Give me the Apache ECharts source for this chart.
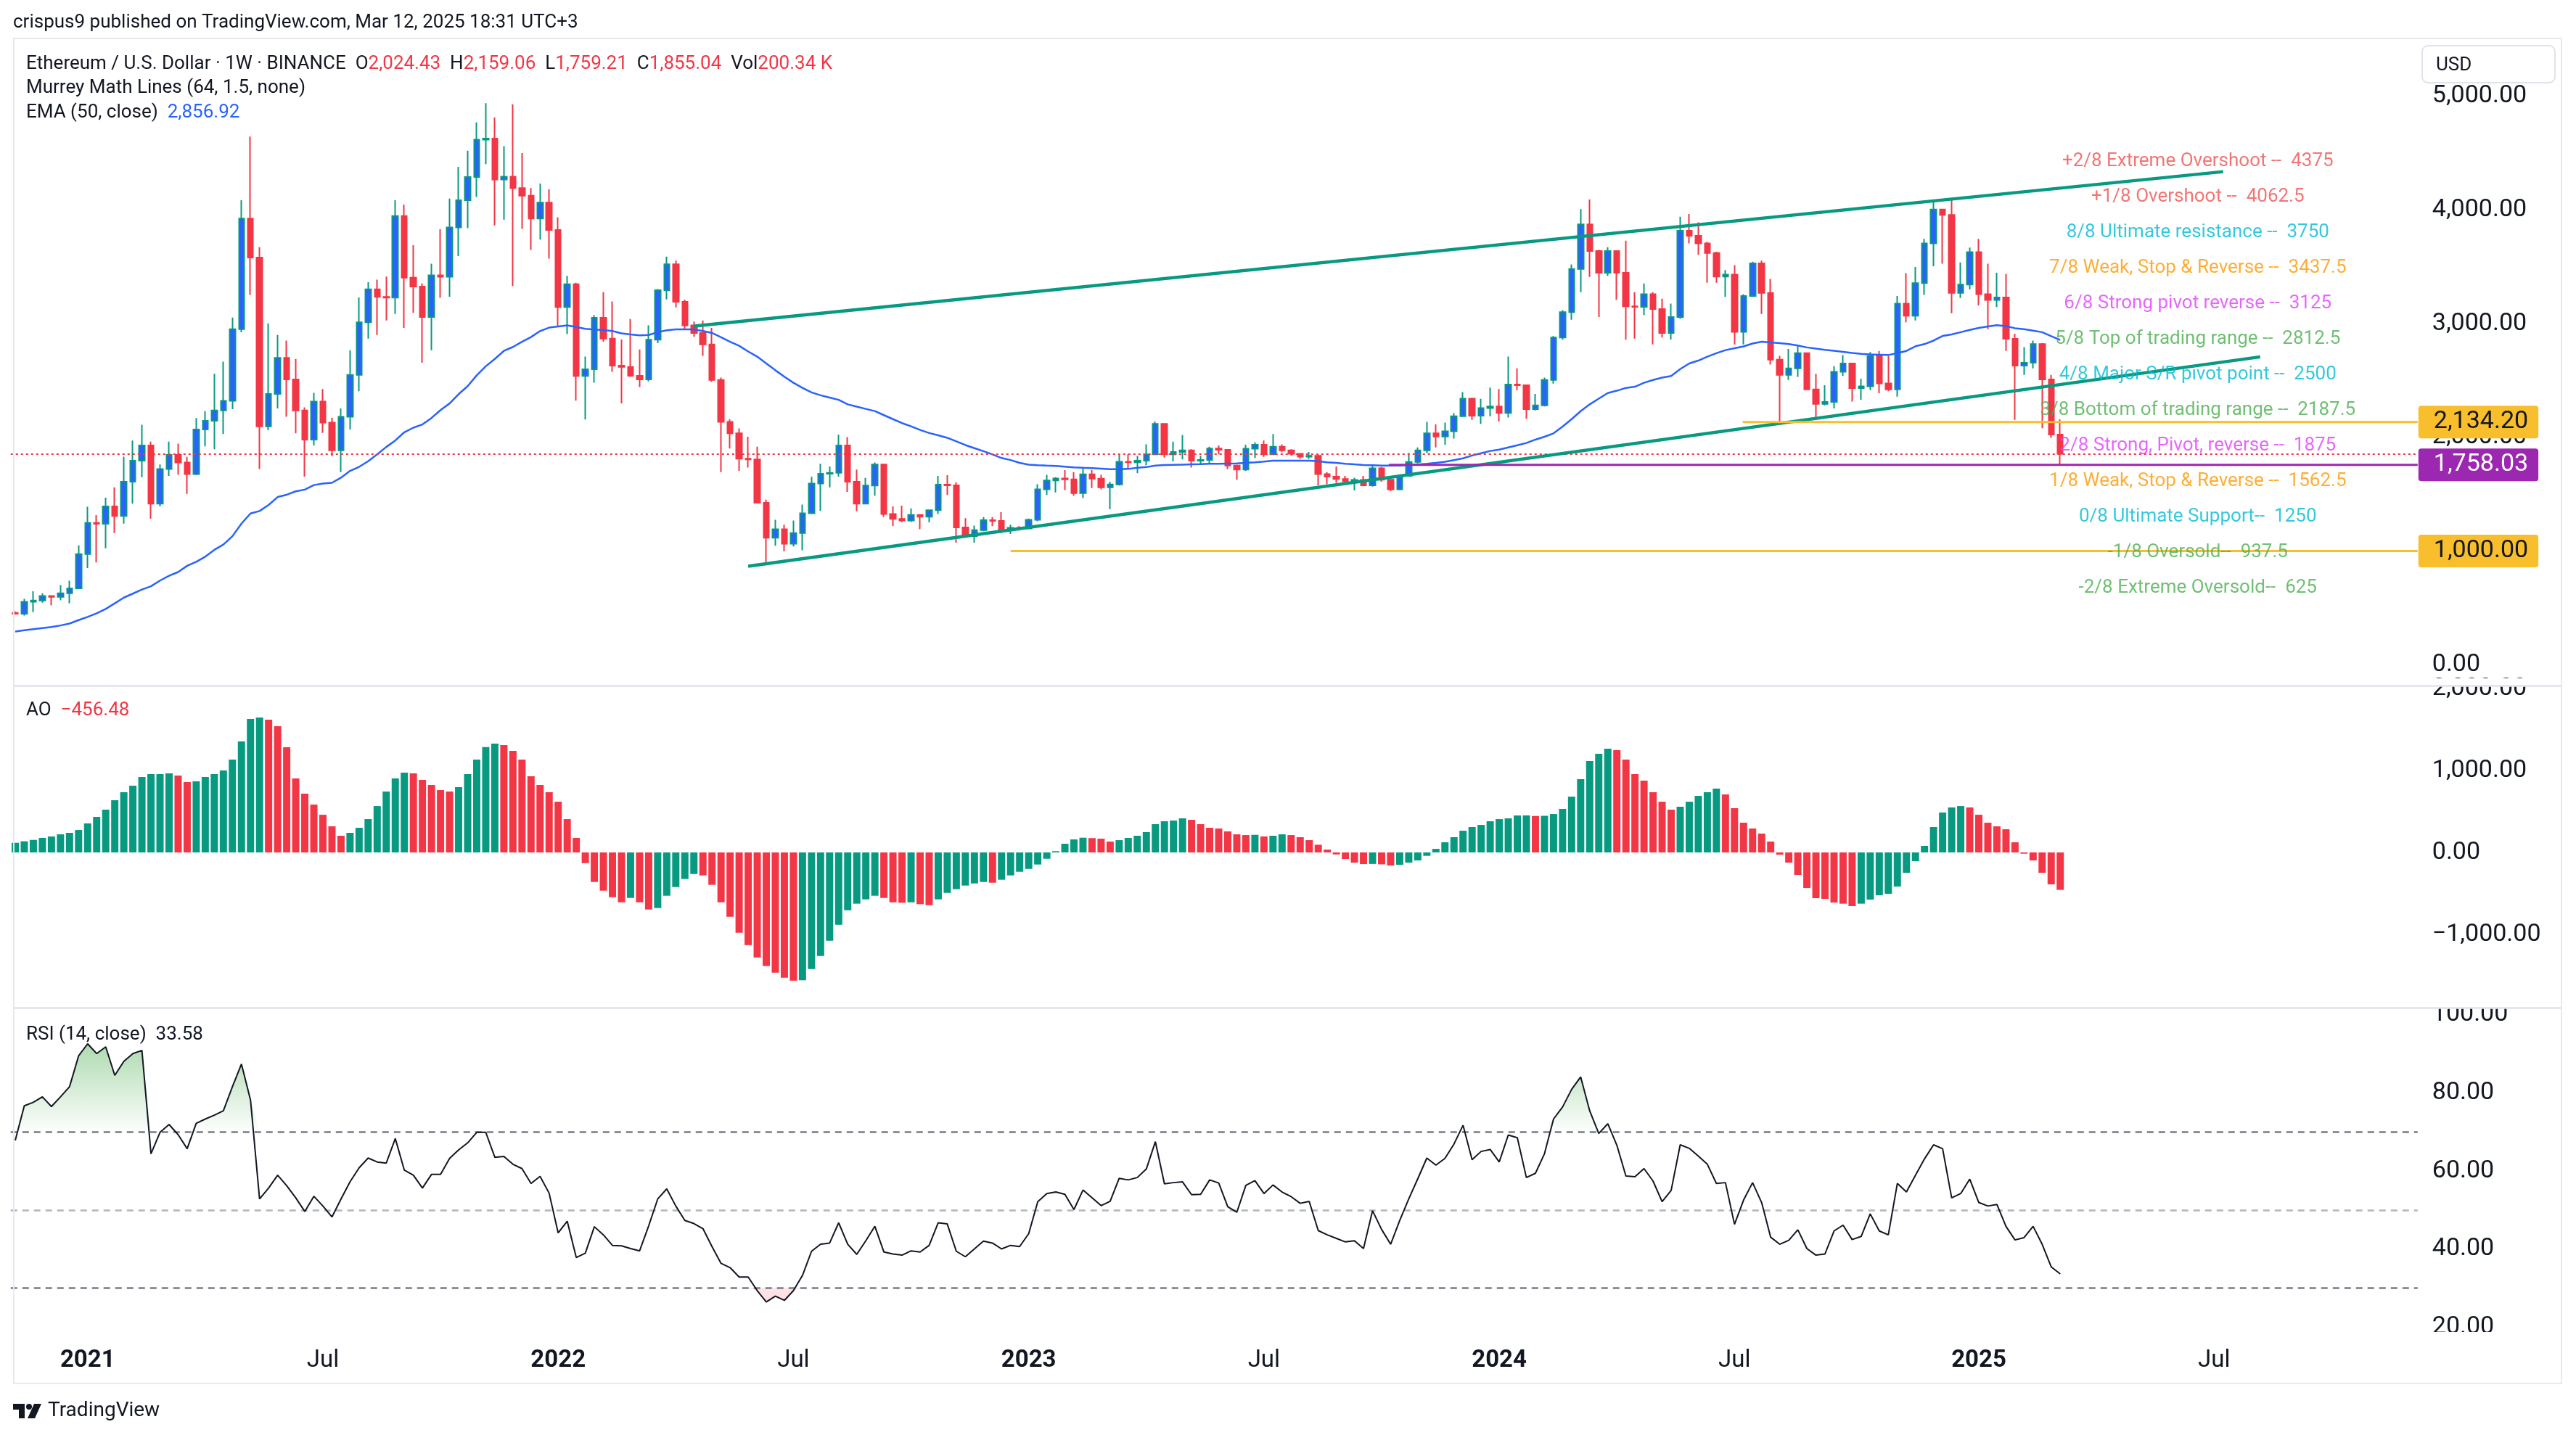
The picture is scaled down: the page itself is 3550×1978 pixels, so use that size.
<!DOCTYPE html>
<html>
<head>
<meta charset="utf-8">
<title>Ethereum / U.S. Dollar 1W</title>
<script src="https://cdn.jsdelivr.net/npm/echarts@6.0.0/dist/echarts.min.js"></script>
<style>
html,body{margin:0;padding:0;background:#ffffff;}
#chart{width:3550px;height:1978px;}
</style>
</head>
<body>
<div id="chart"></div>
<script>
// ---------- DATA ----------
const firstWeekUTC = Date.UTC(2020, 10, 9);   // first weekly bar: 2020-11-09
const weekCount = 266;                          // bars + empty future space on the time axis

const opens = [
456,448,553,565,604,597,628,672,973,1248,
1240,1392,1308,1610,1795,1929,1416,1721,1846,1778,
1677,2069,2146,2237,2321,2952,3924,3582,2096,2381,
2700,2509,2237,1979,2314,2130,1885,2180,2549,3012,
3303,3236,3229,3947,3404,3327,3058,3425,3412,3847,
4085,4290,4619,4628,4267,4293,4192,4125,3924,4065,
3824,3146,3347,2539,2599,3052,2868,2630,2620,2542,
2509,2858,3294,3522,3193,2985,2918,2817,2505,2136,
2036,1812,1805,1425,1117,1191,1064,1158,1332,1593,
1680,1688,1928,1610,1416,1576,1761,1325,1282,1268,
1318,1302,1359,1584,1578,1208,1131,1184,1272,1265,
1185,1205,1198,1275,1543,1620,1638,1630,1509,1675,
1637,1560,1586,1785,1780,1795,1851,2119,1851,1871,
1885,1795,1801,1901,1891,1751,1717,1900,1935,1851,
1918,1885,1855,1830,1838,1677,1654,1633,1612,1625,
1577,1728,1627,1543,1660,1784,1885,2036,2006,2053,
2186,2341,2190,2257,2272,2214,2465,2458,2247,2281,
2505,2878,3102,3481,3874,3639,3448,3639,3448,3153,
3148,3260,3129,2918,3059,3817,3773,3706,3622,3414,
3431,2928,3243,3531,3270,2683,2549,2606,2740,2422,
2294,2311,2576,2650,2432,2448,2717,2475,2422,3176,
3069,3357,3706,4004,3957,3270,3344,3629,3260,3209,
3230,2867,2630,2656,2821,2509,2024.43
];
const highs = [
470,578,645,628,608,700,738,1050,1390,1316,
1469,1560,1830,1972,2110,1962,1761,1962,1945,1828,
2170,2230,2559,2666,3053,4085,4646,3672,3002,2901,
2851,2690,2263,2391,2425,2173,2254,2767,3230,3364,
3387,3414,4085,4048,3690,3354,3528,3830,4100,4380,
4521,4770,4940,4814,4562,4930,4500,4192,4232,4182,
3935,3421,3360,2710,3075,3277,3196,2861,3041,2773,
2985,3304,3589,3555,3212,3018,3028,2962,2525,2159,
2079,2005,1918,1452,1275,1231,1268,1409,1653,1767,
1744,2022,2002,1717,1643,1778,1768,1392,1399,1375,
1320,1365,1661,1667,1604,1288,1224,1299,1299,1342,
1231,1218,1285,1587,1670,1650,1711,1694,1734,1711,
1670,1610,1845,1851,1838,1938,2139,2125,1962,2019,
1895,1838,1918,1928,1895,1760,1935,1955,1972,2029,
1938,1895,1861,1871,1851,1694,1744,1660,1644,1660,
1754,1738,1633,1667,1861,1911,2136,2113,2130,2213,
2398,2348,2338,2438,2425,2710,2606,2465,2381,2525,
2891,3119,3521,4008,4092,3650,3672,3645,3730,3277,
3354,3277,3220,3176,3941,3964,3891,3720,3632,3471,
3515,3260,3545,3555,3394,2717,2777,2807,2745,2559,
2458,2626,2723,2656,2515,2750,2760,2717,3243,3444,
3498,3746,4085,4010,4105,3538,3669,3746,3528,3448,
3437,2911,2794,2851,2830,2550,2159.06
];
const lows = [
440,432,463,545,522,566,540,665,850,900,
1024,1158,1241,1416,1650,1284,1393,1661,1670,1503,
1667,1921,1895,2029,2248,2924,3253,1721,2063,2254,
2180,2036,1654,1929,2039,1835,1694,2069,2405,2868,
2901,3028,3086,2962,3095,2656,2767,3227,3237,3595,
3840,4115,4404,3864,3915,3331,3834,3649,3740,3572,
2975,2908,2322,2157,2481,2841,2576,2298,2532,2442,
2492,2828,3213,3143,2952,2884,2717,2489,1694,1902,
1704,1734,1420,888,1047,997,1040,1007,1325,1352,
1560,1654,1520,1350,1410,1486,1300,1218,1252,1255,
1191,1252,1325,1493,1074,1117,1074,1174,1218,1158,
1150,1181,1191,1262,1493,1516,1536,1486,1466,1553,
1543,1369,1576,1721,1684,1754,1845,1821,1788,1805,
1734,1767,1767,1851,1721,1627,1704,1818,1828,1845,
1868,1838,1811,1811,1577,1587,1600,1600,1533,1570,
1567,1610,1526,1535,1654,1771,1861,1911,1935,1989,
2180,2153,2119,2186,2140,2174,2415,2163,2237,2271,
2472,2858,3035,3277,3411,3059,3421,3210,2858,2868,
3076,2818,2878,2861,3042,3706,3606,3360,3360,3236,
2818,2818,3236,3086,2640,2130,2505,2532,2415,2153,
2281,2254,2542,2314,2331,2415,2388,2405,2358,3012,
3028,3253,3505,3528,3092,3226,3303,3160,2951,3146,
2760,2153,2549,2606,2080,1995,1759.21
];
const closes = [
448,553,565,604,597,628,672,973,1248,1240,
1392,1308,1610,1795,1929,1416,1721,1846,1778,1677,
2069,2146,2237,2321,2952,3924,3582,2096,2381,2700,
2509,2237,1979,2314,2130,1885,2180,2549,3012,3303,
3236,3229,3947,3404,3327,3058,3425,3412,3847,4085,
4290,4619,4628,4267,4293,4192,4125,3924,4065,3824,
3146,3347,2539,2599,3052,2868,2630,2620,2542,2509,
2858,3294,3522,3193,2985,2918,2817,2505,2136,2036,
1812,1805,1425,1117,1191,1064,1158,1332,1593,1680,
1688,1928,1610,1416,1576,1761,1325,1282,1268,1318,
1302,1359,1584,1578,1208,1131,1184,1272,1265,1185,
1205,1198,1275,1543,1620,1638,1630,1509,1675,1637,
1560,1586,1785,1780,1795,1851,2119,1851,1871,1885,
1795,1801,1901,1891,1751,1717,1900,1935,1851,1918,
1885,1855,1830,1838,1677,1654,1633,1612,1625,1577,
1728,1627,1543,1660,1784,1885,2036,2006,2053,2186,
2341,2190,2257,2272,2214,2465,2458,2247,2281,2505,
2878,3102,3481,3874,3639,3448,3639,3448,3153,3148,
3260,3129,2918,3059,3817,3773,3706,3622,3414,3431,
2928,3243,3531,3270,2683,2549,2606,2740,2422,2294,
2311,2576,2650,2432,2448,2717,2475,2422,3176,3069,
3357,3706,4004,3957,3270,3344,3629,3260,3209,3230,
2867,2630,2656,2821,2509,2024.43,1855.04
];
const ema50 = [
292,302,312,322,332,345,362,392,420,452,
490,540,590,625,661,690,740,782,815,870,
905,950,1010,1057,1130,1241,1330,1352,1405,1475,
1495,1525,1540,1580,1593,1600,1645,1705,1740,1790,
1850,1915,1972,2045,2085,2113,2170,2240,2298,2380,
2450,2545,2625,2690,2760,2795,2840,2882,2935,2965,
2975,2985,2970,2955,2948,2944,2935,2915,2905,2897,
2900,2925,2942,2949,2950,2949,2935,2918,2880,2840,
2805,2755,2710,2650,2590,2533,2480,2435,2395,2370,
2350,2330,2290,2270,2250,2231,2195,2160,2125,2097,
2065,2038,2018,1996,1965,1932,1905,1878,1850,1818,
1800,1775,1760,1755,1751,1748,1742,1736,1732,1729,
1725,1719,1719,1722,1732,1738,1752,1756,1758,1760,
1762,1764,1767,1768,1769,1770,1775,1780,1786,1795,
1795,1795,1795,1794,1790,1780,1775,1768,1762,1757,
1755,1752,1751,1752,1756,1761,1768,1776,1785,1800,
1815,1840,1860,1880,1892,1911,1930,1950,1980,2005,
2035,2095,2160,2230,2290,2340,2390,2410,2435,2445,
2480,2505,2525,2540,2600,2650,2675,2710,2740,2767,
2784,2800,2825,2841,2835,2828,2820,2808,2791,2780,
2770,2761,2752,2742,2734,2730,2727,2724,2741,2760,
2801,2820,2851,2892,2905,2925,2945,2962,2975,2986,
2978,2960,2952,2938,2925,2890,2856.92
];
const aoValues = [
118,136,153,177,195,221,239,274,354,434,
522,637,735,814,920,956,956,965,938,858,
867,920,956,1000,1133,1354,1628,1646,1619,1540,
1283,903,717,584,460,319,204,239,301,407,
566,743,903,973,965,885,823,761,743,796,
956,1133,1286,1327,1310,1239,1133,929,823,735,
619,407,177,-130,-360,-466,-546,-608,-555,-608,
-696,-678,-528,-422,-324,-263,-280,-395,-608,-785,
-979,-1130,-1280,-1386,-1466,-1528,-1565,-1560,-1422,-1263,
-1077,-882,-705,-625,-572,-528,-555,-608,-614,-608,
-631,-643,-572,-493,-448,-404,-378,-360,-369,-333,
-280,-236,-201,-147,-77,15,106,159,180,175,
168,133,150,177,204,248,345,381,389,416,
398,345,301,292,257,221,212,215,195,204,
221,212,186,150,94,35,-24,-80,-124,-142,
-140,-145,-159,-150,-124,-97,-41,44,124,186,
265,310,336,381,407,416,451,452,445,447,
469,531,681,894,1115,1204,1265,1248,1133,956,
876,735,619,522,558,619,690,735,779,708,
540,363,292,230,133,-27,-124,-274,-434,-558,
-566,-611,-625,-655,-625,-575,-522,-504,-416,-248,
-106,80,310,487,549,566,549,460,363,319,
283,124,-15,-97,-248,-389,-456.48
];
const rsiValues = [
67.8,76.7,77.6,79.0,76.5,79.0,81.6,89.5,92.6,90.1,
91.8,84.5,88.1,90.1,90.9,64.4,69.9,71.9,69.3,65.7,
72.2,73.3,74.3,75.4,81.6,87.4,78.2,52.8,55.6,58.9,
56.2,53.1,49.6,53.5,51.0,48.2,52.8,57.2,60.8,63.3,
62.3,62.0,68.3,60.2,58.9,55.6,59.1,59.1,63.2,65.4,
67.2,69.9,69.9,63.5,63.7,61.7,60.6,56.8,58.6,54.3,
44.1,47.1,37.8,38.9,45.7,43.6,40.9,40.8,40.1,39.5,
45.9,52.8,55.4,51.0,47.3,46.5,45.2,40.6,36.3,35.2,
32.8,32.8,29.3,26.4,27.9,26.8,29.3,33.2,39.4,41.2,
41.5,46.7,41.2,38.6,42.1,45.8,39.2,38.7,38.4,39.5,
39.2,40.9,46.7,46.4,39.4,38.0,40.0,42.0,41.5,40.0,
40.9,40.6,43.9,52.1,54.2,54.6,54.0,50.1,55.1,53.1,
51.1,52.2,58.1,57.7,58.3,60.5,67.5,56.7,57.0,57.2,
53.9,54.0,57.7,56.9,50.8,49.4,56.3,57.5,54.2,56.4,
54.6,53.4,51.7,52.2,44.7,43.6,42.7,41.8,42.1,40.1,
49.8,45.0,41.2,47.3,52.8,58.0,63.3,61.5,63.2,66.9,
71.7,62.9,65.0,65.5,62.3,69.2,68.5,58.3,59.4,64.4,
73.3,76.4,80.9,84.1,75.4,69.6,72.1,66.6,58.7,58.5,
60.6,57.4,52.1,55.0,66.7,65.8,63.8,61.7,56.8,57.0,
46.3,52.5,57.0,51.9,43.0,41.2,42.2,44.9,40.1,38.4,
38.7,44.6,46.1,42.4,43.2,49.0,44.6,43.6,56.8,54.6,
58.9,63.1,66.7,65.7,53.1,54.2,57.9,51.9,51.0,51.4,
45.8,42.3,42.9,45.8,41.2,35.4,33.58
];

// time-axis tick labels (bar index -> text)
const tickIndex = [8, 34, 60, 86, 112, 138, 164, 190, 217, 243];
const tickText  = ['2021','Jul','2022','Jul','2023','Jul','2024','Jul','2025','Jul'];
const priceTicks = [0, 1000, 2000, 3000, 4000, 5000];
const aoTicks = [-1000, 0, 1000, 2000];
const rsiTicks = [20, 40, 60, 80, 100];

// Murrey Math levels
const murreyLevels = [4375, 4062.5, 3750, 3437.5, 3125, 2812.5, 2500, 2187.5, 1875, 1562.5, 1250, 937.5, 625];
const murreyTexts = [
  '+2/8 Extreme Overshoot --  4375',
  '+1/8 Overshoot --  4062.5',
  '8/8 Ultimate resistance --  3750',
  '7/8 Weak, Stop & Reverse --  3437.5',
  '6/8 Strong pivot reverse --  3125',
  '5/8 Top of trading range --  2812.5',
  '4/8 Major S/R pivot point --  2500',
  '3/8 Bottom of trading range --  2187.5',
  '2/8 Strong, Pivot, reverse --  1875',
  '1/8 Weak, Stop & Reverse --  1562.5',
  '0/8 Ultimate Support--  1250',
  '-1/8 Oversold--  937.5',
  '-2/8 Extreme Oversold--  625'
];
const murreyAnchorBar = 241.2;

// drawn trend lines: [bar index, price]
const upperTrend = [[75, 2979], [244, 4337]];
const lowerTrend = [[81, 866], [248.1, 2708]];
// horizontal levels: start bar, price, tag text
const levelStarts = [190.9, 151.8, 110];
const levelPrices = [2134.20, 1758.03, 1000.00];
const levelTags   = ['2,134.20', '1,758.03', '1,000.00'];
const lastClose = 1855.04;

// ---------- STYLE ----------
const UP = '#2962FF', UP_BORDER = '#089981', DOWN = '#F23645', TEAL = '#089981';
const TXT = '#131722';
const FONT = 'Roboto';
const murreyColors = ['#EF5350','#EF5350','#00BCD4','#FF9800','#E040FB','#4CAF50','#00BCD4','#4CAF50','#E040FB','#FF9800','#00BCD4','#4CAF50','#4CAF50'];
const levelColors = ['#F9BE2B', '#9C27B0', '#F9BE2B'];
const levelTextColors = [TXT, '#FFFFFF', TXT];

// ---------- BUILD ----------
const categories = [];
for (let k = 0; k < weekCount; k++) {
  categories.push(new Date(firstWeekUTC + k * 7 * 86400000).toISOString().slice(0, 10));
}
const candleData = opens.map((o, i) => [o, closes[i], lows[i], highs[i]]);
const aoData = aoValues.map((v, i) => ({
  value: v,
  itemStyle: { color: (i > 0 && v < aoValues[i - 1]) ? DOWN : TEAL }
}));
const rsiHiBase = rsiValues.map(() => 70);
const rsiHiExtra = rsiValues.map(v => Math.max(v, 70) - 70);
const rsiLoBase = rsiValues.map(v => Math.min(v, 30));
const rsiLoExtra = rsiValues.map(v => 30 - Math.min(v, 30));

const fmtNum = v => {
  const s = Math.abs(v).toLocaleString('en-US', { minimumFractionDigits: 2, maximumFractionDigits: 2 });
  return (v < 0 ? '\u2212' : '') + s;
};

const GL = 14.77, GR = 3550 - 3331.8;
const axisLabelStyle = { color: TXT, fontSize: 34, fontFamily: FONT, margin: 20, padding: [7, 0, 0, 0] };

const chart = echarts.init(document.getElementById('chart'), null, { renderer: 'canvas', width: 3550, height: 1978 });

const levelSeries = levelPrices.map((p, k) => ({
  type: 'line', xAxisIndex: 1, yAxisIndex: 0, silent: true, z: 6,
  data: [[levelStarts[k], p], [265.5, p]],
  symbol: 'none',
  lineStyle: { color: levelColors[k], width: 3 },
  endLabel: {
    show: true, formatter: levelTags[k], distance: 1,
    color: levelTextColors[k], backgroundColor: levelColors[k],
    padding: [7, 14, 4, 21], borderRadius: 4,
    fontSize: 34, fontFamily: FONT
  }
}));

const option = {
  animation: false,
  backgroundColor: '#ffffff',
  textStyle: { fontFamily: FONT },
  grid: [
    { left: GL, right: GR, top: 53, height: 887, containLabel: false, outerBoundsMode: 'none' },
    { left: GL, right: GR, top: 946, height: 442, containLabel: false, outerBoundsMode: 'none' },
    { left: GL, right: GR, top: 1390, height: 448, containLabel: false, outerBoundsMode: 'none' }
  ],
  xAxis: [
    { type: 'category', gridIndex: 0, data: categories, boundaryGap: true,
      axisLine: { show: false }, axisTick: { show: false }, axisLabel: { show: false }, splitLine: { show: false } },
    { type: 'value', gridIndex: 0, min: -0.5, max: weekCount - 0.5, show: false, splitLine: { show: false } },
    { type: 'category', gridIndex: 1, data: categories, boundaryGap: true,
      axisLine: { show: false }, axisTick: { show: false }, axisLabel: { show: false }, splitLine: { show: false } },
    { type: 'category', gridIndex: 2, data: categories, boundaryGap: true,
      axisLine: { show: false }, axisTick: { show: false }, splitLine: { show: false },
      axisLabel: {
        show: true, margin: 21, color: TXT, fontSize: 33, fontFamily: FONT,
        interval: (idx) => tickIndex.indexOf(idx) >= 0,
        formatter: (val, idx) => {
          const k = tickIndex.indexOf(idx);
          if (k < 0) return '';
          const t = tickText[k];
          return /^\d/.test(t) ? '{y|' + t + '}' : '{m|' + t + '}';
        },
        rich: {
          y: { fontWeight: 'bold', fontSize: 33, fontFamily: FONT, color: TXT },
          m: { fontWeight: 'normal', fontSize: 33, fontFamily: FONT, color: TXT }
        }
      } }
  ],
  yAxis: [
    { type: 'value', gridIndex: 0, position: 'right', min: -152, max: 5509,
      axisLine: { show: false }, axisTick: { show: false }, splitLine: { show: false },
      axisLabel: Object.assign({ customValues: priceTicks, formatter: fmtNum }, axisLabelStyle) },
    { type: 'value', gridIndex: 1, position: 'right', min: -1885, max: 2027,
      axisLine: { show: false }, axisTick: { show: false }, splitLine: { show: false },
      axisLabel: Object.assign({ customValues: aoTicks, formatter: fmtNum }, axisLabelStyle) },
    { type: 'value', gridIndex: 2, position: 'right', min: 18.33, max: 101.67,
      axisLine: { show: false }, axisTick: { show: false }, splitLine: { show: false },
      axisLabel: Object.assign({ customValues: rsiTicks, formatter: v => v.toFixed(2) }, axisLabelStyle) }
  ],
  series: [
    {
      type: 'candlestick', name: 'ETHUSD', xAxisIndex: 0, yAxisIndex: 0, silent: true, z: 3,
      data: candleData, barWidth: 8,
      itemStyle: { color: UP, color0: DOWN, borderColor: UP_BORDER, borderColor0: DOWN, borderWidth: 2 },
      markLine: {
        silent: true, symbol: ['none', 'none'], label: { show: false },
        lineStyle: { color: DOWN, type: [3, 4], width: 2 },
        data: [{ yAxis: lastClose }]
      }
    },
    {
      type: 'line', name: 'EMA 50', xAxisIndex: 0, yAxisIndex: 0, silent: true, z: 4,
      data: ema50, symbol: 'none', lineStyle: { color: '#2962FF', width: 2.5 }
    },
    {
      type: 'line', name: 'upper trend', xAxisIndex: 1, yAxisIndex: 0, silent: true, z: 5,
      data: upperTrend, symbol: 'none', lineStyle: { color: TEAL, width: 4.5 }
    },
    {
      type: 'line', name: 'lower trend', xAxisIndex: 1, yAxisIndex: 0, silent: true, z: 5,
      data: lowerTrend, symbol: 'none', lineStyle: { color: TEAL, width: 4.5 }
    },
    ...levelSeries,
    {
      type: 'scatter', name: 'Murrey', xAxisIndex: 1, yAxisIndex: 0, silent: true, z: 7,
      symbolSize: 0,
      data: murreyLevels.map((lv, k) => ({
        value: [murreyAnchorBar, lv],
        label: { color: murreyColors[k] }
      })),
      label: {
        show: true, position: 'inside', offset: [0, -8],
        fontSize: 26, fontFamily: FONT,
        formatter: p => murreyTexts[p.dataIndex]
      }
    },
    {
      type: 'bar', name: 'AO', xAxisIndex: 2, yAxisIndex: 1, silent: true,
      data: aoData, barWidth: '80%'
    },
    {
      type: 'line', xAxisIndex: 3, yAxisIndex: 2, silent: true, stack: 'ob',
      data: rsiHiBase, symbol: 'none', lineStyle: { opacity: 0 }
    },
    {
      type: 'line', xAxisIndex: 3, yAxisIndex: 2, silent: true, stack: 'ob',
      data: rsiHiExtra, symbol: 'none', lineStyle: { opacity: 0 },
      areaStyle: {
        color: new echarts.graphic.LinearGradient(0, 1399, 0, 1560, [
          { offset: 0, color: 'rgba(76,175,80,0.85)' },
          { offset: 1, color: 'rgba(76,175,80,0.02)' }
        ], true)
      }
    },
    {
      type: 'line', xAxisIndex: 3, yAxisIndex: 2, silent: true, stack: 'os',
      data: rsiLoBase, symbol: 'none', lineStyle: { opacity: 0 }
    },
    {
      type: 'line', xAxisIndex: 3, yAxisIndex: 2, silent: true, stack: 'os',
      data: rsiLoExtra, symbol: 'none', lineStyle: { opacity: 0 },
      areaStyle: {
        color: new echarts.graphic.LinearGradient(0, 1721, 0, 1829, [
          { offset: 0, color: 'rgba(242,54,69,0.02)' },
          { offset: 1, color: 'rgba(242,54,69,0.35)' }
        ], true)
      }
    },
    {
      type: 'line', name: 'RSI', xAxisIndex: 3, yAxisIndex: 2, silent: true, z: 5,
      data: rsiValues, symbol: 'none', lineStyle: { color: '#131722', width: 2 },
      markLine: {
        silent: true, symbol: ['none', 'none'], label: { show: false },
        data: [
          { yAxis: 70, lineStyle: { color: '#787B86', type: [9, 7], width: 2.5 } },
          { yAxis: 50, lineStyle: { color: '#B2B5BE', type: [9, 7], width: 2.5 } },
          { yAxis: 30, lineStyle: { color: '#787B86', type: [9, 7], width: 2.5 } }
        ]
      }
    }
  ],
  graphic: [
    { type: 'rect', z: 100, silent: true, shape: { x: 19, y: 53, width: 3511, height: 1854 },
      style: { fill: 'none', stroke: '#E6E9F0', lineWidth: 2 } },
    // clip the axis labels that straddle the pane borders
    { type: 'rect', z: 100, silent: true, shape: { x: 3336, y: 935, width: 190, height: 10 }, style: { fill: '#ffffff' } },
    { type: 'rect', z: 100, silent: true, shape: { x: 3336, y: 1374, width: 190, height: 15 }, style: { fill: '#ffffff' } },
    { type: 'rect', z: 100, silent: true, shape: { x: 3336, y: 1836, width: 190, height: 15 }, style: { fill: '#ffffff' } },
    { type: 'line', z: 101, silent: true, shape: { x1: 19, y1: 945.5, x2: 3530, y2: 945.5 }, style: { stroke: '#E0E3EB', lineWidth: 2.5 } },
    { type: 'line', z: 101, silent: true, shape: { x1: 19, y1: 1389.5, x2: 3530, y2: 1389.5 }, style: { stroke: '#E0E3EB', lineWidth: 2.5 } },
    // header
    { type: 'text', z: 102, silent: true, x: 18, y: 31,
      style: { text: 'crispus9 published on TradingView.com, Mar 12, 2025 18:31 UTC+3', fontSize: 26, fontFamily: FONT, fill: TXT, verticalAlign: 'middle' } },
    { type: 'text', z: 102, silent: true, x: 36, y: 88,
      style: {
        text: '{d|Ethereum / U.S. Dollar · 1W · BINANCE  O}{r|2,024.43}{d|  H}{r|2,159.06}{d|  L}{r|1,759.21}{d|  C}{r|1,855.04}{d|  Vol}{r|200.34 K}',
        verticalAlign: 'middle',
        rich: {
          d: { fontSize: 26, fontFamily: FONT, fill: TXT },
          r: { fontSize: 26, fontFamily: FONT, fill: DOWN }
        }
      } },
    { type: 'text', z: 102, silent: true, x: 36, y: 121,
      style: { text: 'Murrey Math Lines (64, 1.5, none)', fontSize: 26, fontFamily: FONT, fill: TXT, verticalAlign: 'middle' } },
    { type: 'text', z: 102, silent: true, x: 36, y: 155,
      style: {
        text: '{d|EMA (50, close)  }{b|2,856.92}', verticalAlign: 'middle',
        rich: { d: { fontSize: 26, fontFamily: FONT, fill: TXT }, b: { fontSize: 26, fontFamily: FONT, fill: '#2962FF' } }
      } },
    { type: 'text', z: 102, silent: true, x: 36, y: 979,
      style: {
        text: '{d|AO  }{r|\u2212456.48}', verticalAlign: 'middle',
        rich: { d: { fontSize: 26, fontFamily: FONT, fill: TXT }, r: { fontSize: 26, fontFamily: FONT, fill: DOWN } }
      } },
    { type: 'text', z: 102, silent: true, x: 36, y: 1426,
      style: { text: 'RSI (14, close)  33.58', fontSize: 26, fontFamily: FONT, fill: TXT, verticalAlign: 'middle' } },
    // USD box
    { type: 'rect', z: 102, silent: true, shape: { x: 3338, y: 63, width: 183, height: 51, r: 8 },
      style: { fill: '#ffffff', stroke: '#E0E3EB', lineWidth: 2 } },
    { type: 'text', z: 103, silent: true, x: 3357, y: 90,
      style: { text: 'USD', fontSize: 26, fontFamily: FONT, fill: TXT, verticalAlign: 'middle' } },
    // TradingView logo
    { type: 'polygon', z: 102, silent: true,
      shape: { points: [[18, 1935], [34, 1935], [34, 1955], [26, 1955], [26, 1943], [18, 1943]] }, style: { fill: TXT } },
    { type: 'circle', z: 102, silent: true, shape: { cx: 40, cy: 1939, r: 4 }, style: { fill: TXT } },
    { type: 'polygon', z: 102, silent: true,
      shape: { points: [[47, 1935], [57, 1935], [48, 1955], [38, 1955]] }, style: { fill: TXT } },
    { type: 'text', z: 102, silent: true, x: 66, y: 1945,
      style: { text: 'TradingView', fontSize: 28, fontFamily: FONT, fill: TXT, verticalAlign: 'middle' } }
  ]
};

chart.setOption(option);
</script>
</body>
</html>
